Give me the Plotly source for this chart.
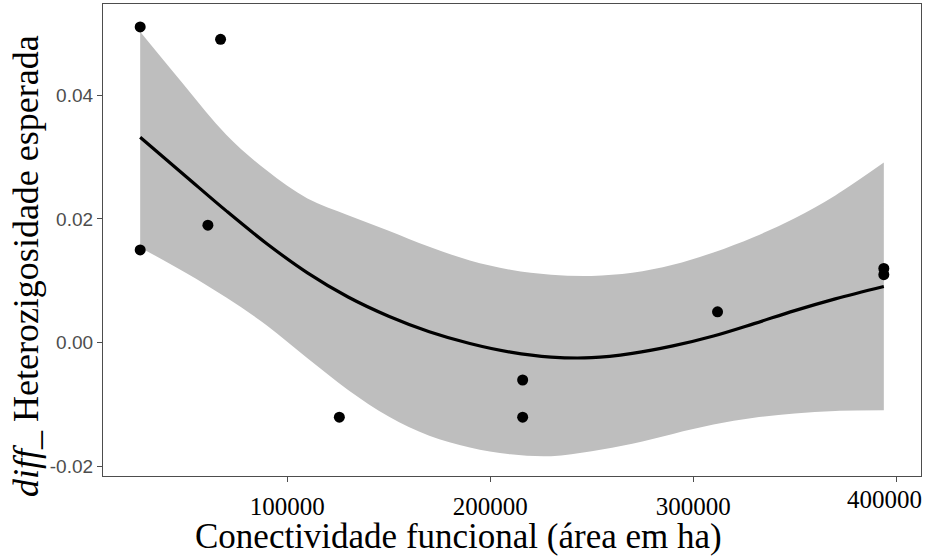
import plotly.graph_objects as go

conectividade = [27600, 27600, 60950, 67200, 125700, 216000, 216000, 312000, 393900, 393900]
diff_he = [0.051, 0.015, 0.019, 0.049, -0.012, -0.006, -0.012, 0.005, 0.012, 0.011]

# Smooth curve and its confidence band
smooth_x = [27600, 50000, 70000, 90000, 110000, 130000, 150000, 170000, 190000, 210000,
            230000, 250000, 270000, 290000, 310000, 330000, 350000, 370000, 393900]
smooth_fit = [0.0332, 0.0269, 0.0213, 0.0160, 0.0113, 0.0074, 0.0043, 0.0018, -0.0001, -0.0015,
              -0.0023, -0.0024, -0.0017, -0.0005, 0.0011, 0.0031, 0.0052, 0.0071, 0.0091]
smooth_upper = [0.0502, 0.0413, 0.0336, 0.0278, 0.0233, 0.0206, 0.0181, 0.0155, 0.0133, 0.0118,
                0.0110, 0.0108, 0.0113, 0.0126, 0.0146, 0.0171, 0.0201, 0.0238, 0.0291]
smooth_lower = [0.0154, 0.0113, 0.0073, 0.0028, -0.0025, -0.0076, -0.0119, -0.0150, -0.0169, -0.0180,
                -0.0183, -0.0175, -0.0163, -0.0147, -0.0132, -0.0121, -0.0114, -0.0110, -0.0109]

x_ticks = [100000, 200000, 300000, 400000]
x_ticklabels = ["100000", "200000", "300000", ""]
last_xtick_label = "400000"
y_ticks = [-0.02, 0.00, 0.02, 0.04]
y_ticklabels = ["-0.02", "0.00", "0.02", "0.04"]

x_title = "Conectividade funcional (área em ha)"
y_title = "<i>diff</i>_ Heterozigosidade esperada"

spline = dict(shape="spline", smoothing=1.0)

fig = go.Figure()
fig.add_trace(go.Scatter(x=smooth_x, y=smooth_lower, mode="lines",
                         line=dict(width=0, **spline), hoverinfo="skip", showlegend=False))
fig.add_trace(go.Scatter(x=smooth_x, y=smooth_upper, mode="lines", fill="tonexty",
                         fillcolor="#BEBEBE", line=dict(width=0, **spline),
                         hoverinfo="skip", showlegend=False))
fig.add_trace(go.Scatter(x=smooth_x, y=smooth_fit, mode="lines",
                         line=dict(color="black", width=3.2, **spline), showlegend=False))
fig.add_trace(go.Scatter(x=conectividade, y=diff_he, mode="markers",
                         marker=dict(color="black", size=11), showlegend=False))

serif = "Liberation Serif"
fig.update_layout(
    width=930, height=556,
    margin=dict(l=103, r=9, t=4, b=80),
    paper_bgcolor="white", plot_bgcolor="white",
    xaxis=dict(
        range=[9285, 412215], tickvals=x_ticks, ticktext=x_ticklabels,
        showgrid=False, zeroline=False, showline=True, mirror=True,
        linecolor="#4D4D4D", linewidth=1.3, automargin=False,
        ticks="outside", ticklen=5, tickwidth=1.3, tickcolor="#4D4D4D",
        ticklabelstandoff=3,
        tickfont=dict(family=serif, size=25, color="black"),
    ),
    yaxis=dict(
        range=[-0.0215, 0.0547], tickvals=y_ticks, ticktext=y_ticklabels,
        showgrid=False, zeroline=False, showline=True, mirror=True,
        linecolor="#4D4D4D", linewidth=1.3, automargin=False,
        ticks="outside", ticklen=5, tickwidth=1.3, tickcolor="#4D4D4D",
        tickfont=dict(family="Liberation Sans", size=19, color="#4D4D4D"),
    ),
    annotations=[
        dict(text=last_xtick_label, xref="x", yref="paper", x=x_ticks[-1], y=0,
             xanchor="center", yanchor="top", yshift=-8, xshift=-12, showarrow=False,
             font=dict(family=serif, size=25, color="black")),
        dict(text=x_title, xref="paper", yref="paper", x=0.434, y=-0.129,
             xanchor="center", yanchor="middle", showarrow=False,
             font=dict(family=serif, size=35, color="black")),
        dict(text=y_title, xref="paper", yref="paper", x=-0.094, y=0.445,
             xanchor="center", yanchor="middle", showarrow=False, textangle=-90,
             font=dict(family=serif, size=36, color="black")),
    ],
)

fig.write_html("out.html")
